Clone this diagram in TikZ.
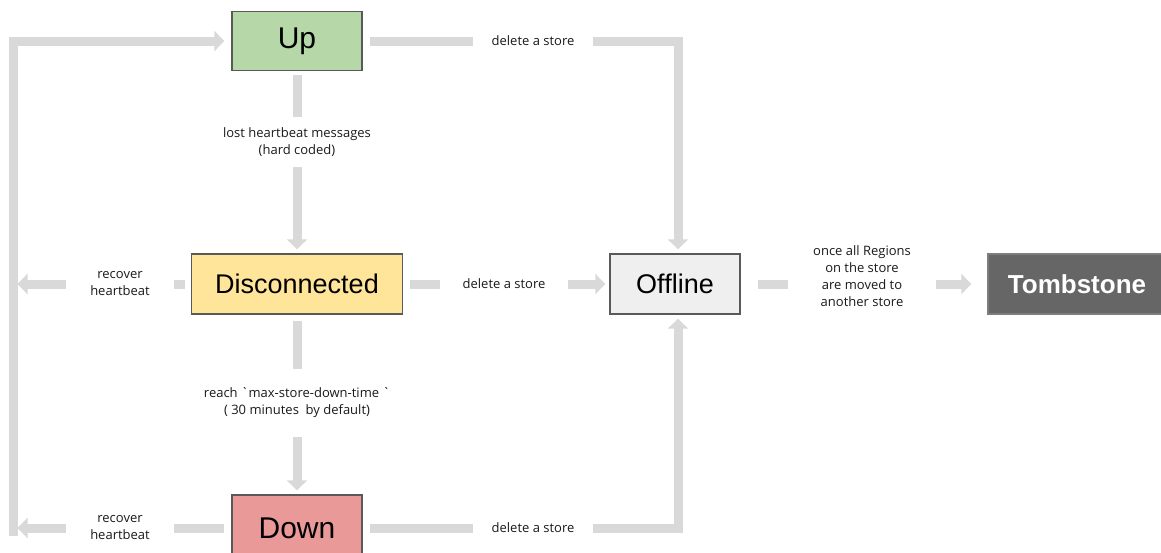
\documentclass[tikz,border=0pt]{standalone}
\usepackage{fontspec}
\setmainfont{Liberation Sans}
\newfontfamily\notefont{Open Sans}
\usetikzlibrary{arrows.meta,positioning}
\definecolor{flowgray}{HTML}{D9D9D9}
\definecolor{upgreen}{HTML}{B6D7A8}
\definecolor{discyellow}{HTML}{FFE599}
\definecolor{downred}{HTML}{EA9999}
\definecolor{offgray}{HTML}{EFEFEF}
\definecolor{tombgray}{HTML}{666666}
\definecolor{boxline}{HTML}{595959}

\begin{document}
\begin{tikzpicture}[x=1pt,y=-1pt,
    state/.style={draw=boxline,line width=1.4pt,minimum height=60pt,
      font=\fontsize{27}{30}\selectfont},
    note/.style={align=center,inner xsep=22pt,inner ysep=10pt,text=black!90,
      font=\notefont\fontsize{13}{17}\selectfont},
    flow/.style={flowgray,line width=9pt},
    flowarr/.style={flow,-{Triangle[length=10pt,width=20pt]},shorten >=4pt}]
  \useasboundingbox (0,0) rectangle (1161,552);

  \node[state,fill=upgreen,minimum width=130pt,minimum height=59pt,
    font=\fontsize{30}{33}\selectfont] (up) at (297,41) {Up};
  \node[state,fill=discyellow,minimum width=211pt] (disc) at (297,284) {Disconnected};
  \node[state,fill=downred,minimum width=130pt,minimum height=66pt,
    font=\fontsize{30}{33}\selectfont] (down) at (297,528) {Down};
  \node[state,fill=offgray,minimum width=130pt] (offline) at (675,284) {Offline};
  \node[state,draw=tombgray!85,fill=tombgray,text=white,minimum width=178pt,
    font=\fontsize{26}{29}\selectfont\bfseries] (tomb) at (1077,284) {Tombstone};

  \node[note,inner xsep=18pt] (del1) at (533,41) {delete a store};
  \node[note] (lost) at (297,142) {lost heartbeat messages\\(hard coded)};
  \node[note,inner xsep=24pt] (rec1) at (120,284) {recover\\heartbeat};
  \node[note] (del2) at (504,284) {delete a store};
  \node[note,inner ysep=19pt] (reach) at (297,403)
    {reach \textasciigrave max-store-down-time \textasciigrave\\( 30 minutes\ \ by default)};
  \node[note,inner xsep=24pt] (rec2) at (120,528) {recover\\heartbeat};
  \node[note,inner xsep=18pt] (del3) at (533,528) {delete a store};
  \node[note,inner xsep=25pt] (once) at (862,276)
    {once all Regions\\on the store\\are moved to\\another store};

  \coordinate (loopb) at (13,536);
  \coordinate (loopt) at (13,41);

  \draw[flow,shorten <=4pt] (up) -- (lost);
  \draw[flowarr] (lost) -- (disc);
  \draw[flow,shorten <=6pt] (disc) -- (reach);
  \draw[flowarr] (reach) -- (down);

  \draw[flow,shorten <=7pt] (up) -- (del1);
  \draw[flowarr] (del1) -| ([xshift=3pt]offline.north);
  \draw[flow,shorten <=7pt] (disc) -- (del2);
  \draw[flowarr] (del2) -- (offline);
  \draw[flow,shorten <=7pt] (down) -- (del3);
  \draw[flowarr] (del3) -| ([xshift=3pt]offline.south);

  \draw[flow,shorten <=6pt] (disc) -- (rec1);
  \draw[flowarr,shorten >=4.5pt] (rec1) -- (rec1 -| loopb);
  \draw[flow,shorten <=7pt] (down) -- (rec2);
  \draw[flowarr,shorten >=4.5pt] (rec2) -- (rec2 -| loopb);
  \draw[flowarr,shorten >=7pt] (loopb) -- (loopt) -- (up);

  \draw[flow,shorten <=17pt] (offline) -- (offline -| once.west);
  \draw[flowarr,shorten >=16pt] (once.east |- tomb) -- (tomb);
\end{tikzpicture}
\end{document}
